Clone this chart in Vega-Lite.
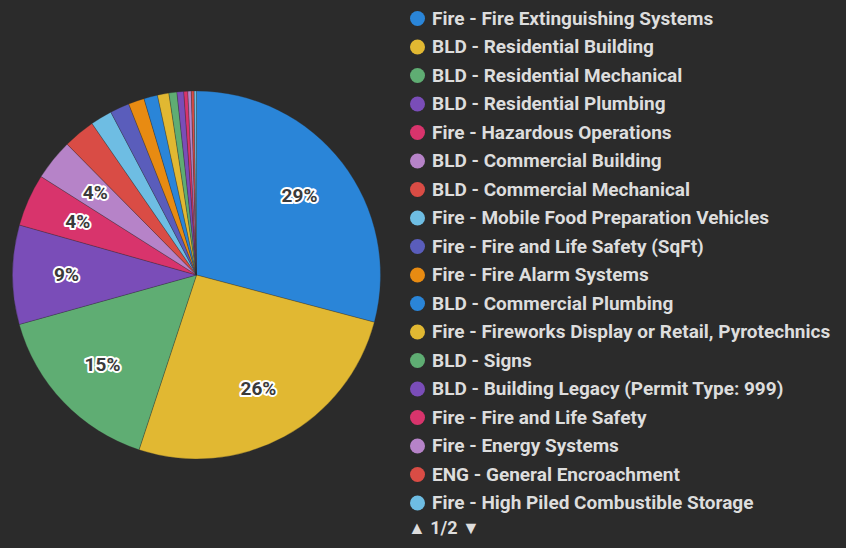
{
  "$schema": "https://vega.github.io/schema/vega-lite/v6.json",
  "width": 393,
  "height": 546,
  "padding": {"left": 0, "top": 2, "right": 453, "bottom": 0},
  "autosize": {"type": "none"},
  "background": "#2b2b2b",
  "config": {"view": {"stroke": null}},
  "data": {
    "values": [
      {"type": "Fire - Fire Extinguishing Systems", "value": 29.1, "label": "29%"},
      {"type": "BLD - Residential Building", "value": 25.9, "label": "26%"},
      {"type": "BLD - Residential Mechanical", "value": 15.6, "label": "15%"},
      {"type": "BLD - Residential Plumbing", "value": 8.7, "label": "9%"},
      {"type": "Fire - Hazardous Operations", "value": 4.6, "label": "4%"},
      {"type": "BLD - Commercial Building", "value": 3.6, "label": "4%"},
      {"type": "BLD - Commercial Mechanical", "value": 2.8, "label": ""},
      {"type": "Fire - Mobile Food Preparation Vehicles", "value": 1.9, "label": ""},
      {"type": "Fire - Fire and Life Safety (SqFt)", "value": 1.7, "label": ""},
      {"type": "Fire - Fire Alarm Systems", "value": 1.4, "label": ""},
      {"type": "BLD - Commercial Plumbing", "value": 1.2, "label": ""},
      {"type": "Fire - Fireworks Display or Retail, Pyrotechnics", "value": 1.0, "label": ""},
      {"type": "BLD - Signs", "value": 0.7, "label": ""},
      {"type": "BLD - Building Legacy (Permit Type: 999)", "value": 0.6, "label": ""},
      {"type": "Fire - Fire and Life Safety", "value": 0.35, "label": ""},
      {"type": "Fire - Energy Systems", "value": 0.3, "label": ""},
      {"type": "ENG - General Encroachment", "value": 0.25, "label": ""},
      {"type": "Fire - High Piled Combustible Storage", "value": 0.2, "label": ""}
    ]
  },
  "encoding": {
    "theta": {"field": "value", "type": "quantitative", "stack": true},
    "order": {"field": "value", "type": "quantitative", "sort": "descending"}
  },
  "layer": [
    {
      "mark": {"type": "arc", "outerRadius": 184, "stroke": "#2b2b2b", "strokeWidth": 0.3},
      "encoding": {
        "color": {
          "field": "type",
          "type": "nominal",
          "sort": null,
          "scale": {
            "domain": [
              "Fire - Fire Extinguishing Systems",
              "BLD - Residential Building",
              "BLD - Residential Mechanical",
              "BLD - Residential Plumbing",
              "Fire - Hazardous Operations",
              "BLD - Commercial Building",
              "BLD - Commercial Mechanical",
              "Fire - Mobile Food Preparation Vehicles",
              "Fire - Fire and Life Safety (SqFt)",
              "Fire - Fire Alarm Systems",
              "BLD - Commercial Plumbing",
              "Fire - Fireworks Display or Retail, Pyrotechnics",
              "BLD - Signs",
              "BLD - Building Legacy (Permit Type: 999)",
              "Fire - Fire and Life Safety",
              "Fire - Energy Systems",
              "ENG - General Encroachment",
              "Fire - High Piled Combustible Storage"
            ],
            "range": ["#2a85d8", "#e1b832", "#5fad73", "#7a4db8", "#d8346c", "#b683c8", "#d94c45", "#6ebde3", "#5a5dbb", "#e88b12"]
          },
          "legend": {
            "orient": "none",
            "legendX": 408,
            "legendY": 7,
            "padding": 0,
            "title": "▲ 1/2 ▼",
            "titleOrient": "bottom",
            "titleColor": "#dddddd",
            "titleFont": "Roboto",
            "titleFontSize": 18,
            "titleFontWeight": "bold",
            "titlePadding": 7,
            "labelColor": "#dddddd",
            "labelFont": "Roboto",
            "labelFontSize": 19,
            "labelFontWeight": "bold",
            "labelLimit": 600,
            "labelOffset": 5,
            "symbolType": "circle",
            "symbolSize": 225,
            "symbolStrokeWidth": 0,
            "symbolOpacity": 1,
            "rowPadding": 8.5
          }
        }
      }
    },
    {
      "mark": {"type": "text", "radius": 130, "font": "Roboto", "fontSize": 19, "fontWeight": "bold", "stroke": "white", "strokeWidth": 4, "fill": "white", "strokeJoin": "round"},
      "encoding": {
        "text": {"field": "label"},
        "detail": {"field": "type"}
      }
    },
    {
      "mark": {"type": "text", "radius": 130, "font": "Roboto", "fontSize": 19, "fontWeight": "bold", "fill": "#3a3a3a"},
      "encoding": {
        "text": {"field": "label"},
        "detail": {"field": "type"}
      }
    }
  ]
}
